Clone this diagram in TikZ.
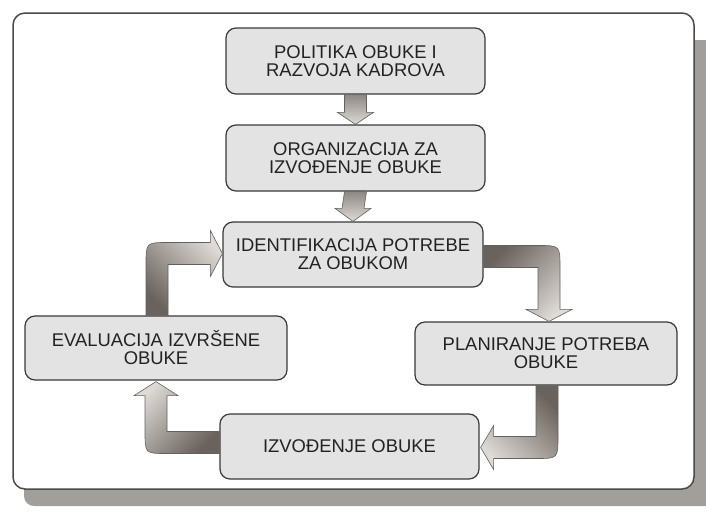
\documentclass[tikz,border=0pt]{standalone}
\usepackage{fontspec}
\setmainfont{Liberation Sans}
\usetikzlibrary{calc}
\definecolor{boxfill}{HTML}{E3E3E3}
\definecolor{boxline}{HTML}{3A3A3A}
\definecolor{framec}{HTML}{4A4A4A}
\definecolor{shadowc}{HTML}{A29E99}
\definecolor{arrdark}{HTML}{6A625C}
\definecolor{arrlight}{HTML}{DEDAD6}
\definecolor{arrmid}{HTML}{8E8882}
\definecolor{txt}{HTML}{222222}
\tikzset{
  stagebox/.style={draw=boxline, line width=1.2pt, fill=boxfill, rounded corners=10pt,
    minimum width=259pt, minimum height=65pt, inner sep=0pt, align=center,
    text=txt, font=\fontsize{18.4}{18}\selectfont},
  broadarrow/.style={draw=boxline!80, line width=0.6pt, top color=arrdark, bottom color=arrlight},
  straightarrow/.style={draw=boxline!80, line width=0.6pt, top color=arrmid, bottom color=arrlight, shading angle=0}
}
\begin{document}
\begin{tikzpicture}[x=1pt,y=-1pt]
\useasboundingbox (0,0) rectangle (706,512);
% shadow and frame
\fill[shadowc, rounded corners=10pt] (24,40) rectangle (716,506);
\draw[framec, line width=1.5pt, fill=white, rounded corners=12pt] (13,13) rectangle (694,489);

% stages
\node[stagebox, minimum height=66pt] (b1) at (355.5,61) {POLITIKA OBUKE I\\RAZVOJA KADROVA};
\node[stagebox, minimum height=66pt] (b2) at (355.5,158) {ORGANIZACIJA ZA\\IZVOĐENJE OBUKE};
\node[stagebox, minimum width=260pt] (b3) at (353,254.5) {IDENTIFIKACIJA POTREBE\\ZA OBUKOM};
\node[stagebox, minimum width=262pt, minimum height=63pt] (b4) at (546,353.5) {PLANIRANJE POTREBA\\OBUKE};
\node[stagebox] (b5) at (349.5,446.5) {IZVOĐENJE OBUKE};
\node[stagebox, minimum width=262pt, minimum height=64pt] (b6) at (156,348) {EVALUACIJA IZVRŠENE\\OBUKE};

% straight arrows
\path[straightarrow] ($(b1.south)+(-11,0)$) -- ($(b2.north)+(-11,-12)$) -- ($(b2.north)+(-18,-12)$)
  -- (b2.north) -- ($(b2.north)+(18,-12)$) -- ($(b2.north)+(11,-12)$) -- ($(b1.south)+(11,0)$) -- cycle;
\path[straightarrow] ($(b2.south)+(-11,0)$) -- ($(b3.north)+(-11,-13)$) -- ($(b3.north)+(-18,-13)$)
  -- (b3.north) -- ($(b3.north)+(18,-13)$) -- ($(b3.north)+(11,-13)$) -- ($(b2.south)+(11,0)$) -- cycle;

% b3 -> b4
\coordinate (e3) at ($(b3.east)+(0,2)$);
\coordinate (n4) at ($(b4.north)+(3,0)$);
\coordinate (c34) at (n4 |- e3);
\path[broadarrow, shading angle=45] ($(e3)+(0,-11)$) -- ($(c34)+(-11,-11)$)
  .. controls ($(c34)+(11,-11)$) .. ($(c34)+(11,11)$) -- ($(n4)+(11,-12)$) -- ($(n4)+(23,-12)$)
  -- (n4) -- ($(n4)+(-23,-12)$) -- ($(n4)+(-11,-12)$) -- ($(c34)+(-11,11)$) -- ($(e3)+(0,11)$) -- cycle;

% b4 -> b5
\coordinate (s4) at ($(b4.south)+(1,0)$);
\coordinate (t5) at ($(b5.east)+(1,1)$);
\coordinate (c45) at (s4 |- t5);
\path[broadarrow, shading angle=-45] ($(s4)+(-11,0)$) -- ($(c45)+(-11,-11)$) -- ($(t5)+(13,-11)$)
  -- ($(t5)+(13,-22)$) -- (t5) -- ($(t5)+(13,22)$) -- ($(t5)+(13,11)$) -- ($(c45)+(-11,11)$)
  .. controls ($(c45)+(11,11)$) .. ($(c45)+(11,-11)$) -- ($(s4)+(11,0)$) -- cycle;

% b5 -> b6
\coordinate (w5) at ($(b5.west)+(0,-4)$);
\coordinate (s6) at ($(b6.south)+(0,1)$);
\coordinate (c56) at (s6 |- w5);
\path[broadarrow, shading angle=-135] ($(w5)+(0,-11)$) -- ($(c56)+(11,-11)$) -- ($(s6)+(11,14)$)
  -- ($(s6)+(22,14)$) -- (s6) -- ($(s6)+(-22,14)$) -- ($(s6)+(-11,14)$) -- ($(c56)+(-11,-11)$)
  .. controls ($(c56)+(-11,11)$) .. ($(c56)+(11,11)$) -- ($(w5)+(0,11)$) -- cycle;

% b6 -> b3
\coordinate (n6) at ($(b6.north)+(1,0)$);
\coordinate (w3) at ($(b3.west)+(0,-1)$);
\coordinate (c63) at (n6 |- w3);
\path[broadarrow, shading angle=135] ($(n6)+(-11,0)$) -- ($(c63)+(-11,11)$)
  .. controls ($(c63)+(-11,-11)$) .. ($(c63)+(11,-11)$) -- ($(w3)+(-12,-11)$) -- ($(w3)+(-12,-23)$)
  -- (w3) -- ($(w3)+(-12,23)$) -- ($(w3)+(-12,11)$) -- ($(c63)+(11,11)$) -- ($(n6)+(11,0)$) -- cycle;
\end{tikzpicture}
\end{document}
